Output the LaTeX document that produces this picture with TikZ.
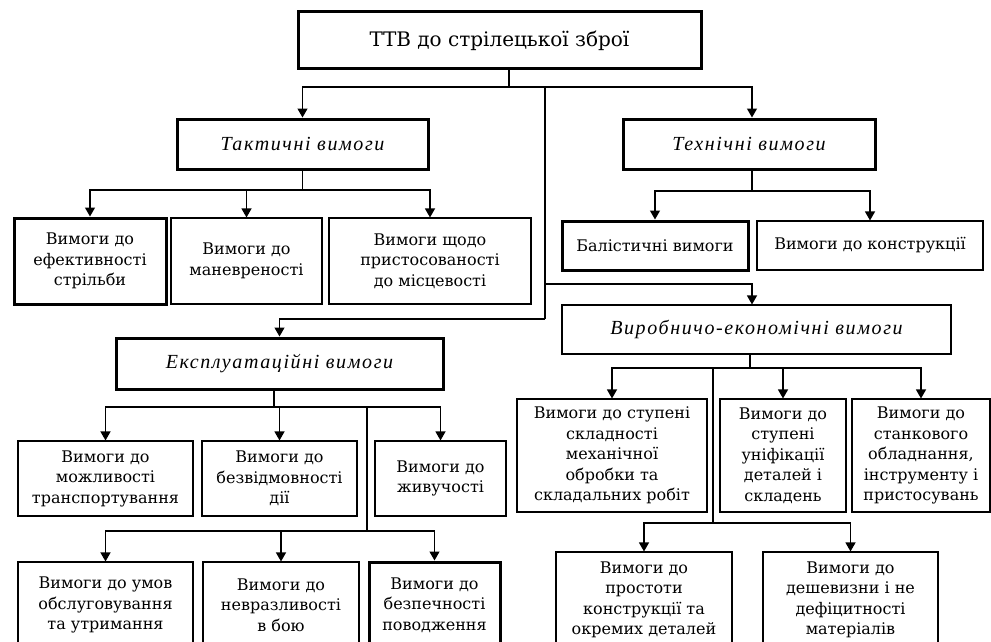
\documentclass[tikz,border=0pt]{standalone}
\usepackage{fontspec}
\setmainfont{DejaVu Serif}
\newfontfamily\headfont[LetterSpace=8]{Liberation Serif}
\usetikzlibrary{arrows.meta}
\begin{document}
\begin{tikzpicture}[x=1pt,y=-1pt,
  box/.style={draw, line width=1.1pt, rectangle, inner sep=0pt, align=center,
    font=\fontsize{16}{20.5}\selectfont},
  thickbox/.style={box, line width=3pt},
  head/.style={font=\headfont\fontsize{20}{22}\selectfont\itshape},
  conn/.style={line width=1.3pt},
  arr/.style={conn, -{Triangle[length=9pt,width=10pt]}},
]
\useasboundingbox (0,0) rectangle (991,642);
\clip (0,0) rectangle (991,642);
\fill[white] (0,0) rectangle (991,642);

% top
\node[thickbox, minimum width=403pt, minimum height=57pt] (top) at (499.5,40.5)
  {\fontsize{20}{22}\selectfont ТТВ до стрілецької зброї};

% level 1
\node[thickbox, head, minimum width=251pt, minimum height=50pt] (tact) at (302.5,144) {Тактичні вимоги};
\node[thickbox, head, minimum width=252pt, minimum height=50pt] (tech) at (749,144) {Технічні вимоги};
\node[thickbox, head, minimum width=327pt, minimum height=51pt] (expl) at (279.5,363.5) {Експлуатаційні вимоги};
\node[box, head, minimum width=389pt, minimum height=49pt] (vyr) at (756.5,329.5) {Виробничо-економічні вимоги};

% tactical children
\node[thickbox, minimum width=152pt, minimum height=86pt] (t1) at (90,261) {Вимоги до\\ефективності\\стрільби};
\node[box, minimum width=151pt, minimum height=86pt] (t2) at (246.5,261) {Вимоги до\\маневреності};
\node[box, minimum width=202pt, minimum height=86pt] (t3) at (430,261) {Вимоги щодо\\пристосованості\\до місцевості};

% technical children
\node[thickbox, minimum width=186pt, minimum height=49pt] (b1) at (655,245.5) {Балістичні вимоги};
\node[box, minimum width=226pt, minimum height=49pt] (b2) at (870,245.5) {Вимоги до конструкції};

% exploitation children
\node[box, minimum width=175pt, minimum height=75pt] (e1) at (105.5,478.5) {Вимоги до\\можливості\\транспортування};
\node[box, minimum width=155pt, minimum height=75pt] (e2) at (279.5,478.5) {Вимоги до\\безвідмовності\\дії};
\node[box, minimum width=131pt, minimum height=75pt] (e3) at (440.5,478.5) {Вимоги до\\живучості};
\node[box, minimum width=175pt, minimum height=86pt] (e4) at (105.5,605) {Вимоги до умов\\обслуговування\\та утримання};
\node[box, minimum width=156pt, minimum height=86pt] (e5) at (281,605) {Вимоги до\\невразливості\\в бою};
\node[thickbox, minimum width=131pt, minimum height=86pt] (e6) at (434.5,605) {Вимоги до\\безпечності\\поводження};

% production children
\node[box, minimum width=190pt, minimum height=113pt] (v1) at (612,455.5) {Вимоги до ступені\\складності\\механічної\\обробки та\\складальних робіт};
\node[box, minimum width=126pt, minimum height=113pt] (v2) at (783,455.5) {Вимоги до\\ступені\\уніфікації\\деталей і\\складень};
\node[box, minimum width=138pt, minimum height=113pt] (v3) at (921,455.5) {Вимоги до\\станкового\\обладнання,\\інструменту і\\пристосувань};
\node[box, minimum width=176pt, minimum height=96pt] (v4) at (644,600) {Вимоги до\\простоти\\конструкції та\\окремих деталей};
\node[box, minimum width=175pt, minimum height=96pt] (v5) at (850.5,600) {Вимоги до\\дешевизни і не\\дефіцитності\\матеріалів};

% junction coordinates
\coordinate (j0) at (509,87);
\coordinate (tr) at (545,87);
\coordinate (trL) at (545,319);
\coordinate (trR) at (545,284);
\coordinate (aT) at (752,0);
\coordinate (tj) at (302.5,190);
\coordinate (hj) at (752,191);
\coordinate (ej) at (274,407);
\coordinate (ej2) at (367,407);
\coordinate (ej3) at (367,531);
\coordinate (vj) at (750,368);
\coordinate (vj2) at (713,368);
\coordinate (vj3) at (713,523);

% top connectors
\draw[conn] (top.south -| j0) -- (j0);
\draw[arr] (j0) -| (tact.north);
\draw[arr] (j0) -| (tech.north -| aT);
\draw[conn] (tr) -- (trL);
\draw[arr] (trL) -| (expl.north);
\draw[arr] (trR) -| (vyr.north -| aT);

% tactical
\draw[conn] (tact.south) -- (tj);
\draw[arr] (tj) -| (t1.north);
\draw[arr] (tj) -| (t2.north);
\draw[arr] (tj) -| (t3.north);

% technical
\draw[conn] (tech.south -| hj) -- (hj);
\draw[arr] (hj) -| (b1.north);
\draw[arr] (hj) -| (b2.north);

% exploitation
\draw[conn] (expl.south -| ej) -- (ej);
\draw[arr] (ej) -| (e1.north);
\draw[arr] (ej) -| (e2.north);
\draw[arr] (ej) -| (e3.north);
\draw[conn] (ej2) -- (ej3);
\draw[arr] (ej3) -| (e4.north);
\draw[arr] (ej3) -| (e5.north);
\draw[arr] (ej3) -| (e6.north);

% production
\draw[conn] (vyr.south -| vj) -- (vj);
\draw[arr] (vj) -| (v1.north);
\draw[arr] (vj) -| (v2.north);
\draw[arr] (vj) -| (v3.north);
\draw[conn] (vj2) -- (vj3);
\draw[arr] (vj3) -| (v4.north);
\draw[arr] (vj3) -| (v5.north);
\end{tikzpicture}
\end{document}
